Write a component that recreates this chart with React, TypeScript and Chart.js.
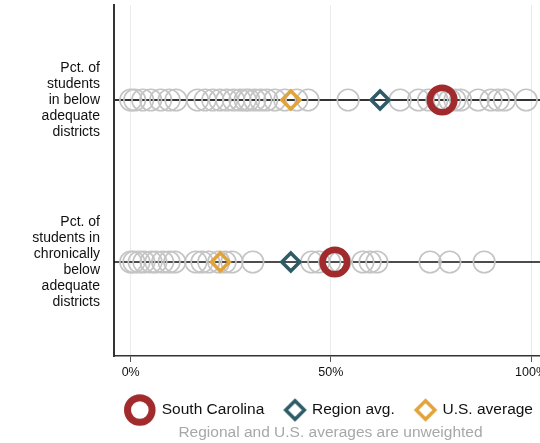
import React, { useEffect, useRef } from "react";
import { Chart, registerables } from "chart.js";

Chart.register(...registerables);

// ---- data ----
const rowLabels: string[][] = [
  ["Pct. of", "students", "in below", "adequate", "districts"],
  ["Pct. of", "students in", "chronically", "below", "adequate", "districts"],
];
const rowPositions = [1, 0];

const belowAdequate = [
  0, 1, 3, 5, 7.5, 9.6, 11.3, 16.7, 18.6, 20.5, 22.3, 24, 25.7, 27.3, 28.6,
  29.5, 31, 32.5, 34, 36, 38.5, 41.5, 44.3, 54.3, 67.3, 71.9, 74.4, 76.5,
  78.4, 79.7, 81, 82.4, 86.8, 90, 91.8, 93.4, 98.8,
];
const chronicallyBelow = [
  0, 0.8, 2.1, 3.3, 5.1, 6.3, 8, 9.6, 11, 16.3, 17.8, 19.5, 22, 23.6, 25.3,
  30.5, 45.2, 47, 49.7, 52.3, 58, 59.8, 61.5, 74.8, 79.7, 88.3,
];
const southCarolina = [77.8, 51];
const regionAvg = [62.3, 40];
const usAvg = [40, 22.4];

const xTicks = [0, 50, 100];
const legendLabels = ["South Carolina", "Region avg.", "U.S. average"];
const caption = "Regional and U.S. averages are unweighted";

// ---- style ----
const FONT = "'Liberation Sans', Arial, Helvetica, sans-serif";
const SC_COLOR = "#a02a2c";
const REGION_COLOR = "#2e5b66";
const US_COLOR = "#e3a33b";
const GRAY = "#c4c4c4";

const CANVAS_W = 661;
const CANVAS_H = 443;
const X_MIN = -4.17;
const X_MAX = 132.47;
const Y_MIN = -0.5802;
const Y_MAX = 1.5864;

function makeMarker(kind: "ring" | "diamond", color: string, cx: number) {
  const c = document.createElement("canvas");
  c.width = 40;
  c.height = 36;
  const ctx = c.getContext("2d")!;
  ctx.strokeStyle = color;
  ctx.beginPath();
  if (kind === "ring") {
    ctx.lineWidth = 7;
    ctx.arc(cx, 18, 12.3, 0, Math.PI * 2);
  } else {
    ctx.lineWidth = 3.5;
    ctx.lineJoin = "miter";
    const r = 9.3;
    ctx.moveTo(cx - r, 18);
    ctx.lineTo(cx, 18 - r);
    ctx.lineTo(cx + r, 18);
    ctx.lineTo(cx, 18 + r);
    ctx.closePath();
  }
  ctx.stroke();
  return c;
}

const toPoints = (vals: number[], y: number) => vals.map((x) => ({ x, y }));

export default function App() {
  const ref = useRef<HTMLCanvasElement | null>(null);

  useEffect(() => {
    if (!ref.current) return;
    const markers = [
      makeMarker("ring", SC_COLOR, 18.75),
      makeMarker("diamond", REGION_COLOR, 23.75),
      makeMarker("diamond", US_COLOR, 23.75),
    ];

    const chart = new Chart(ref.current, {
      type: "scatter",
      data: {
        datasets: [
          {
            label: legendLabels[0],
            data: southCarolina.map((x, i) => ({ x, y: rowPositions[i] })),
            pointStyle: "circle",
            pointRadius: 12.3,
            pointBorderWidth: 6.5,
            borderColor: SC_COLOR,
            backgroundColor: "transparent",
            order: 0,
          } as any,
          {
            label: legendLabels[2],
            data: usAvg.map((x, i) => ({ x, y: rowPositions[i] })),
            pointStyle: "rectRot",
            pointRadius: 9,
            pointBorderWidth: 3.5,
            borderColor: US_COLOR,
            backgroundColor: "transparent",
            order: 1,
          },
          {
            label: legendLabels[1],
            data: regionAvg.map((x, i) => ({ x, y: rowPositions[i] })),
            pointStyle: "rectRot",
            pointRadius: 9,
            pointBorderWidth: 3.5,
            borderColor: REGION_COLOR,
            backgroundColor: "transparent",
            order: 2,
          },
          {
            label: "below adequate",
            data: toPoints(belowAdequate, rowPositions[0]),
            pointStyle: "circle",
            pointRadius: 10.8,
            pointBorderWidth: 1.6,
            borderColor: GRAY,
            backgroundColor: "transparent",
            order: 3,
          },
          {
            label: "chronically below",
            data: toPoints(chronicallyBelow, rowPositions[1]),
            pointStyle: "circle",
            pointRadius: 10.8,
            pointBorderWidth: 1.6,
            borderColor: GRAY,
            backgroundColor: "transparent",
            order: 3,
          },
          {
            label: "row1",
            data: [
              { x: X_MIN - 10, y: rowPositions[0] },
              { x: X_MAX + 10, y: rowPositions[0] },
            ],
            showLine: true,
            pointRadius: 0,
            borderColor: "#333333",
            borderWidth: 2,
            order: 4,
          },
          {
            label: "row2",
            data: [
              { x: X_MIN - 10, y: rowPositions[1] },
              { x: X_MAX + 10, y: rowPositions[1] },
            ],
            showLine: true,
            pointRadius: 0,
            borderColor: "#111111",
            borderWidth: 1.6,
            order: 4,
          },
        ],
      },
      options: {
        animation: false,
        responsive: false,
        events: [],
        layout: { autoPadding: false, padding: { top: 5, left: 0, right: 0, bottom: 0 } },
        scales: {
          x: {
            type: "linear",
            min: X_MIN,
            max: X_MAX,
            afterBuildTicks: (axis: any) => {
              axis.ticks = xTicks.map((v) => ({ value: v }));
            },
            afterFit: (axis: any) => {
              axis.height = 32.25;
              axis.paddingLeft = 0;
              axis.paddingRight = 0;
            },
            grid: {
              color: "#ebebeb",
              lineWidth: 1,
              tickLength: 6,
              tickColor: "#555555",
              tickWidth: 1,
            },
            border: { display: true, color: "#333333", width: 1.5 },
            ticks: {
              padding: 3.5,
              maxRotation: 0,
              color: "#111111",
              font: { family: FONT, size: 12.5 },
              callback: (v: any) => v + "%",
            },
          },
          y: {
            type: "linear",
            min: Y_MIN,
            max: Y_MAX,
            afterBuildTicks: (axis: any) => {
              axis.ticks = rowPositions.map((v) => ({ value: v }));
            },
            afterFit: (axis: any) => {
              axis.width = 114;
              axis.paddingTop = 0;
              axis.paddingBottom = 0;
            },
            grid: { display: false, drawTicks: false },
            border: { display: true, color: "#333333", width: 2 },
            ticks: {
              padding: 14,
              color: "#111111",
              font: { family: FONT, size: 14, lineHeight: 16 / 14 },
              callback: (v: any) => rowLabels[rowPositions.indexOf(v)] as any,
            },
          },
        },
        plugins: {
          tooltip: { enabled: false },
          legend: {
            display: true,
            position: "bottom",
            labels: {
              usePointStyle: true,
              pointStyleWidth: 26,
              padding: 14,
              color: "#111111",
              font: { family: FONT, size: 15.5 },
              generateLabels: () =>
                legendLabels.map((text, i) => ({
                  text,
                  pointStyle: markers[i] as any,
                  fillStyle: "transparent",
                  strokeStyle: "transparent",
                  lineWidth: 0,
                  hidden: false,
                  fontColor: "#111111",
                  datasetIndex: i,
                })),
            },
          },
          title: {
            display: true,
            position: "bottom",
            text: caption,
            color: "#a8a8a8",
            font: { family: FONT, size: 15.5, weight: "normal", lineHeight: 0.677 },
            padding: { top: 0, bottom: 4.75 },
          },
        },
      } as any,
    });

    return () => chart.destroy();
  }, []);

  return (
    <div
      style={{
        position: "absolute",
        left: 0,
        top: 0,
        width: 540,
        height: 443,
        overflow: "hidden",
        background: "#ffffff",
      }}
    >
      <canvas
        ref={ref}
        width={CANVAS_W}
        height={CANVAS_H}
        style={{ display: "block", width: CANVAS_W, height: CANVAS_H }}
      />
    </div>
  );
}
